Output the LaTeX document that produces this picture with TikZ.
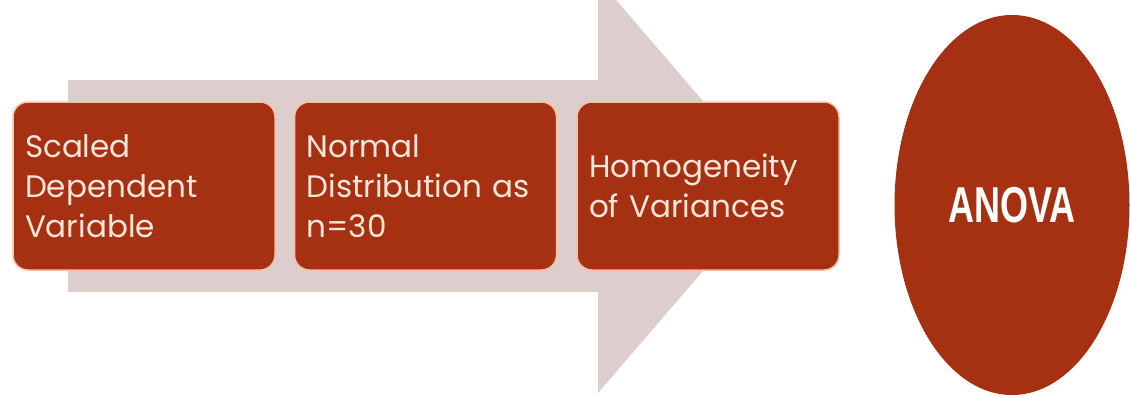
\documentclass[tikz,border=0pt]{standalone}
\usepackage{fontspec}
\newfontfamily\boxfont{Poppins}
\newfontfamily\ovalfont{Liberation Sans}
\usetikzlibrary{positioning,shapes.geometric}

\definecolor{arrowpink}{RGB}{221,205,205}
\definecolor{boxred}{RGB}{166,49,18}
\definecolor{boxedge}{RGB}{250,190,165}
\definecolor{boxtext}{RGB}{253,230,218}

\tikzset{
  stepbox/.style={draw=boxedge, line width=1.5pt, fill=boxred,
    rounded corners=15pt, minimum width=262pt, minimum height=168pt,
    text width=238pt, inner xsep=12pt, align=left, text=boxtext,
    font=\boxfont\fontsize{31}{40}\selectfont},
  resultoval/.style={ellipse, fill=boxred, minimum width=235pt,
    minimum height=380pt, inner sep=0pt, text=white,
    font=\ovalfont\bfseries\fontsize{36}{40}\selectfont}
}

\begin{document}
\begin{tikzpicture}[x=1pt,y=-1pt]

    % Fix the frame of the picture
    \useasboundingbox (0,0) rectangle (1130,397);
    \clip (0,0) rectangle (1130,397);

    % Draw the big arrow behind the steps
    \fill[arrowpink] (68,80) -- (598,80) -- (598,-21) -- (776,186)
        -- (598,393) -- (598,292) -- (68,292) -- cycle;

    % Draw the three steps
    \node[stepbox] (S) at (144,186) {Scaled\\Dependent\\Variable};
    \node[stepbox, right=18pt of S] (N) {Normal\\Distribution as\\n=30};
    \node[stepbox, right=19pt of N] (H) {Homogeneity\\of Variances};

    % Draw the result
    \node[resultoval] (AN) at (1012,205) {\scalebox{1}[1.4]{ANOVA}};

\end{tikzpicture}
\end{document}
